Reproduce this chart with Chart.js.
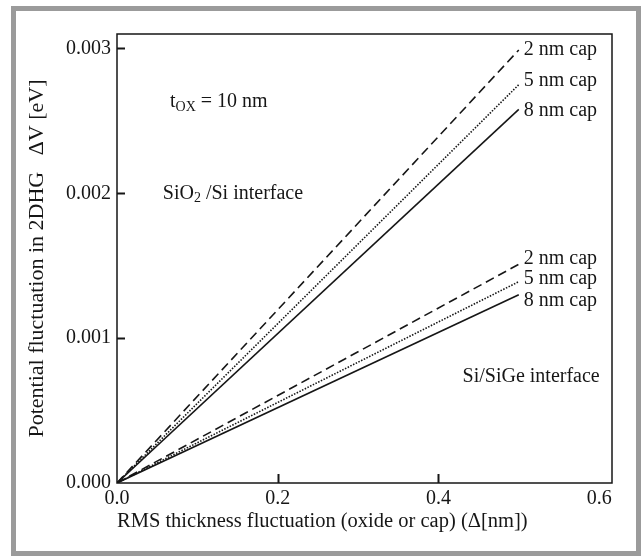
<!DOCTYPE html>
<html lang="en">
<head>
    <meta charset="UTF-8">
    <title>Potential fluctuation vs RMS thickness fluctuation</title>
    <style>
        body {
            margin: 0;
            background-color: #ffffff;
        }
        #wrap {
            position: absolute;
            left: 0;
            top: 0;
            width: 641px;
            height: 556px;
        }
        #frame {
            position: absolute;
            left: 11px;
            top: 6px;
            right: 0;
            bottom: 0;
            border: 5px solid #9b9b9b;
            box-sizing: border-box;
            pointer-events: none;
        }
    </style>
</head>
<body>
    <div id="wrap">
        <canvas id="fluctChart"></canvas>
    </div>
    <div id="frame"></div>

    <script src="https://cdn.jsdelivr.net/npm/chart.js@4.4.3/dist/chart.umd.min.js"></script>
    <script>
        // data: every line starts at the origin and ends at x = 0.5
        const xEnds = [0, 0.5];
        const seriesNames = ['SiO2 2 nm cap', 'SiO2 5 nm cap', 'SiO2 8 nm cap', 'SiGe 2 nm cap', 'SiGe 5 nm cap', 'SiGe 8 nm cap'];
        const sio2Values = [[0, 0.00299], [0, 0.00275], [0, 0.00258]];
        const sigeValues = [[0, 0.00151], [0, 0.00139], [0, 0.00130]];
        const capLabels = ['2 nm cap', '5 nm cap', '8 nm cap'];
        // where the cap labels sit (data units, left edge / middle)
        const sio2LabelY = [0.00299, 0.00278, 0.00257];
        const sigeLabelY = [0.00155, 0.00141, 0.00126];

        const xTicks = [0.0, 0.2, 0.4, 0.6];
        const yTicks = [0.000, 0.001, 0.002, 0.003];

        const FONT = '"Liberation Serif", "DejaVu Serif", serif';
        const INK = '#161616';
        const dashes = [[9, 5], [1.5, 1.5], []];

        function makeSet(values, i, name) {
            return {
                label: name,
                data: xEnds.map((x, k) => ({ x: x, y: values[k] })),
                borderColor: INK,
                borderWidth: 1.6,
                borderDash: dashes[i],
                pointRadius: 0,
                fill: false,
                tension: 0
            };
        }

        const datasets = [];
        sio2Values.forEach((v, i) => datasets.push(makeSet(v, i, seriesNames[i])));
        sigeValues.forEach((v, i) => datasets.push(makeSet(v, i, seriesNames[i + 3])));

        // text with an optional subscript part
        function drawRich(ctx, px, py, parts) {
            let x = px;
            parts.forEach(p => {
                ctx.font = (p.sub ? '14px ' : '20px ') + FONT;
                ctx.fillText(p.t, x, py + (p.sub ? 5 : 0));
                x += ctx.measureText(p.t).width;
            });
        }

        const decorPlugin = {
            id: 'decor',
            afterDraw(chart) {
                const ctx = chart.ctx;
                const xs = chart.scales.x, ys = chart.scales.y;
                const a = chart.chartArea;
                ctx.save();
                ctx.strokeStyle = INK;
                ctx.lineWidth = 1.5;
                ctx.strokeRect(a.left, a.top, a.right - a.left, a.bottom - a.top);

                // inward ticks
                ctx.beginPath();
                xTicks.slice(1, -1).forEach(v => {
                    const p = Math.round(xs.getPixelForValue(v)) + 0.5;
                    ctx.moveTo(p, a.bottom);
                    ctx.lineTo(p, a.bottom - 9);
                });
                yTicks.slice(1).forEach(v => {
                    const p = Math.round(ys.getPixelForValue(v)) + 0.5;
                    ctx.moveTo(a.left, p);
                    ctx.lineTo(a.left + 8, p);
                });
                ctx.lineWidth = 2;
                ctx.stroke();

                ctx.fillStyle = INK;
                ctx.textBaseline = 'middle';
                ctx.textAlign = 'left';
                const endX = xs.getPixelForValue(xEnds[1]) + 5;
                capLabels.forEach((t, i) => {
                    drawRich(ctx, endX, ys.getPixelForValue(sio2LabelY[i]), [{ t: t }]);
                    drawRich(ctx, endX, ys.getPixelForValue(sigeLabelY[i]), [{ t: t }]);
                });

                drawRich(ctx, xs.getPixelForValue(0.066), ys.getPixelForValue(0.00263),
                    [{ t: 't' }, { t: 'OX', sub: true }, { t: ' = 10 nm' }]);
                drawRich(ctx, xs.getPixelForValue(0.057), ys.getPixelForValue(0.0020),
                    [{ t: 'SiO' }, { t: '2', sub: true }, { t: ' /Si interface' }]);
                drawRich(ctx, xs.getPixelForValue(0.43), ys.getPixelForValue(0.000735),
                    [{ t: 'Si/SiGe interface' }]);
                ctx.restore();
            }
        };

        const config = {
            type: 'line',
            data: { datasets: datasets },
            options: {
                responsive: true,
                maintainAspectRatio: false,
                animation: false,
                layout: { padding: { left: 0, top: 34, right: 29, bottom: 0 } },
                scales: {
                    x: {
                        type: 'linear',
                        min: 0,
                        max: 0.616,
                        afterFit: s => { s.height = 73; },
                        afterBuildTicks: s => { s.ticks = xTicks.map(v => ({ value: v })); },
                        grid: { display: false, drawTicks: false },
                        border: { display: false },
                        ticks: {
                            padding: 4,
                            color: INK,
                            font: { family: FONT, size: 20 },
                            callback: v => v.toFixed(1)
                        },
                        title: {
                            display: true,
                            align: 'start',
                            text: 'RMS thickness fluctuation (oxide or cap) (\u0394[nm])',
                            color: INK,
                            font: { family: FONT, size: 20.5 },
                            padding: { top: 0, bottom: 22 }
                        }
                    },
                    y: {
                        type: 'linear',
                        min: 0,
                        max: 0.0031,
                        afterFit: s => { s.width = 117; },
                        afterBuildTicks: s => { s.ticks = yTicks.map(v => ({ value: v })); },
                        grid: { display: false, drawTicks: false },
                        border: { display: false },
                        ticks: {
                            padding: 6,
                            color: INK,
                            font: { family: FONT, size: 20 },
                            callback: v => v.toFixed(3)
                        },
                        title: {
                            display: true,
                            text: 'Potential fluctuation in 2DHG   \u0394V [eV]',
                            color: INK,
                            font: { family: FONT, size: 22 },
                            padding: { top: 24, bottom: 0 }
                        }
                    }
                },
                plugins: {
                    legend: { display: false },
                    tooltip: { enabled: false }
                }
            },
            plugins: [decorPlugin]
        };

        const ctx = document.getElementById('fluctChart').getContext('2d');
        const fluctChart = new Chart(ctx, config);
    </script>
</body>
</html>
